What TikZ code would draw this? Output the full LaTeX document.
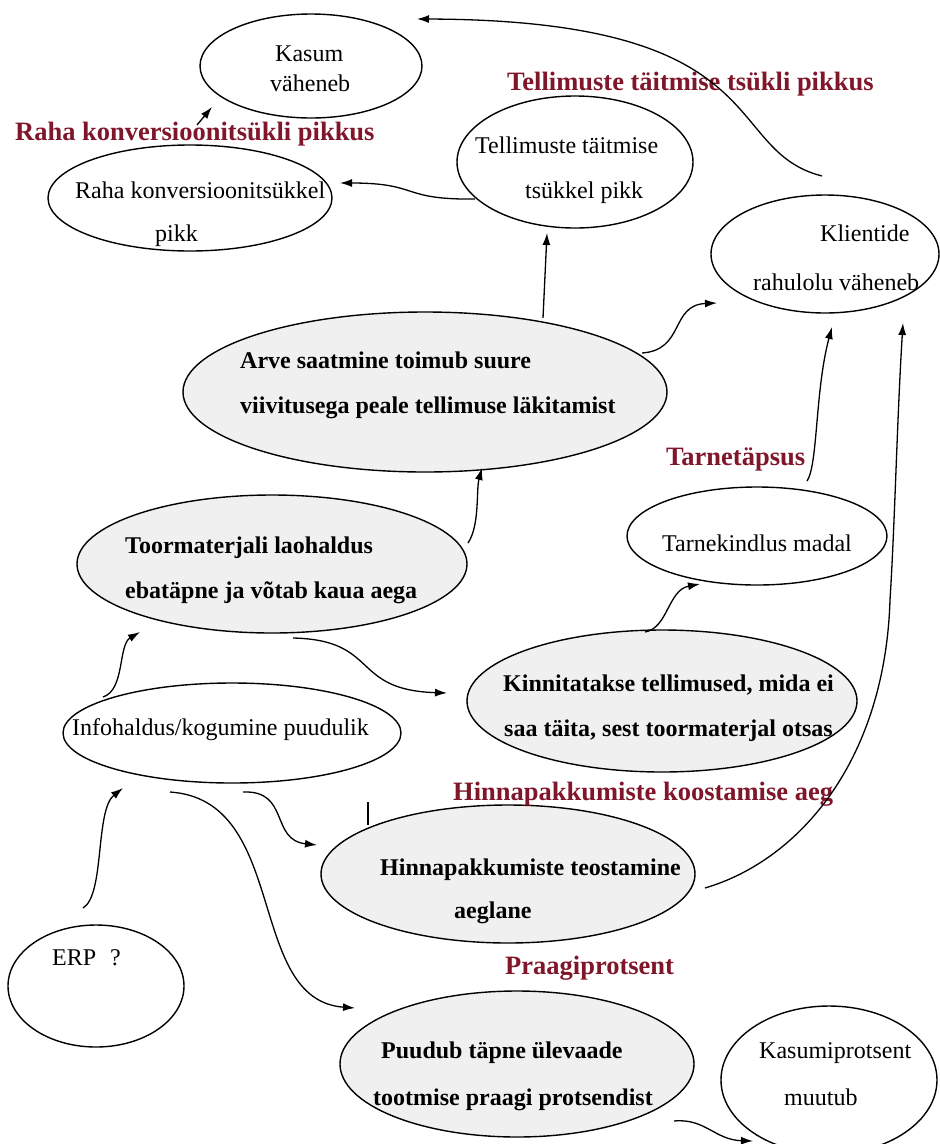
\documentclass[tikz,border=0pt]{standalone}
\usepackage{fontspec}
\setmainfont{Liberation Serif}
\usetikzlibrary{shapes.geometric,arrows.meta}
\definecolor{labelred}{RGB}{128,22,42}
\definecolor{probfill}{RGB}{240,240,240}
\begin{document}
\begin{tikzpicture}[x=1pt,y=-1pt,
  ell/.style={ellipse, draw, line width=1.4pt, inner sep=0pt},
  probell/.style={ell, fill=probfill},
  axes/.style 2 args={minimum width=#1, minimum height=#2},
  txt/.style={anchor=base west, inner sep=0pt, font=\fontsize{24}{28}\selectfont},
  btxt/.style={txt, font=\fontsize{24}{28}\selectfont\bfseries},
  measure/.style={txt, text=labelred, font=\fontsize{26.5}{30}\selectfont\bfseries},
  link/.style={line width=1.3pt, -{Latex[length=12pt,width=8pt]}},
  plain/.style={line width=1.3pt},
]
% canvas
\path[use as bounding box] (0,0) rectangle (940,1144);
\fill[white] (0,0) rectangle (940,1144);
\clip (0,0) rectangle (940,1144);

% ---- consequences (white) and problems (grey) ----
\node[ell, axes={222pt}{104pt}] (kasum) at (311,66) {};
\node[ell, axes={284pt}{106pt}] (raha) at (190,198) {};
\node[ell, axes={236pt}{132pt}] (tell) at (575,162) {};
\node[ell, axes={228pt}{118pt}] (klient) at (825,254) {};
\node[probell, axes={484pt}{160pt}] (arve) at (425,392) {};
\node[probell, axes={390pt}{138pt}] (toor) at (272,564) {};
\node[ell, axes={260pt}{98pt}] (tarne) at (757,536) {};
\node[ell, axes={338pt}{100pt}] (info) at (232,733) {};
\node[probell, axes={390pt}{142pt}] (kinn) at (662,701) {};
\node[probell, axes={374pt}{138pt}] (hinna) at (508,874) {};
\node[probell, axes={354pt}{146pt}] (puud) at (517,1064) {};
\node[ell, axes={216pt}{148pt}] (kprot) at (829,1080) {};
\node[ell, axes={176pt}{122pt}] (erp) at (96,986) {};

% ---- texts inside the ellipses ----
\node[txt] (kasumA) at (275,61) {Kasum};
\node[txt] (kasumB) at (270,91) {väheneb};
\node[txt] (rahaA) at (75,198) {Raha konversioonitsükkel};
\node[txt] (rahaB) at (155,241) {pikk};
\node[txt] (tellA) at (475,153) {Tellimuste täitmise};
\node[txt] (tellB) at (525,198) {tsükkel pikk};
\node[txt] (klientA) at (820,241) {Klientide};
\node[txt] (klientB) at (753,290) {rahulolu väheneb};
\node[btxt] (arveA) at (240,368) {Arve saatmine toimub suure};
\node[btxt] (arveB) at (240,413) {viivitusega peale tellimuse läkitamist};
\node[btxt] (toorA) at (125,553) {Toormaterjali laohaldus};
\node[btxt] (toorB) at (125,598) {ebatäpne ja võtab kaua aega};
\node[txt] (tarneA) at (662,551) {Tarnekindlus madal};
\node[btxt] (kinnA) at (503,691) {Kinnitatakse tellimused, mida ei};
\node[btxt] (kinnB) at (504,736) {saa täita, sest toormaterjal otsas};
\node[txt] (infoA) at (72,735) {Infohaldus/kogumine puudulik};
\node[btxt] (hinnaA) at (380,875) {Hinnapakkumiste teostamine};
\node[btxt] (hinnaB) at (454,918) {aeglane};
\node[txt] (erpA) at (52,965) {ERP\hspace{14pt}?};
\node[btxt] (puudA) at (381,1058) {Puudub täpne ülevaade};
\node[btxt] (puudB) at (373,1105) {tootmise praagi protsendist};
\node[txt] (kprotA) at (759,1058) {Kasumiprotsent};
\node[txt] (kprotB) at (784,1105) {muutub};

% ---- measures ----
\node[measure] (mTell) at (507,90) {Tellimuste täitmise tsükli pikkus};
\node[measure] (mRaha) at (15,140) {Raha konversioonitsükli pikkus};
\node[measure] (mTarne) at (666,465) {Tarnetäpsus};
\node[measure] (mHinna) at (453,800) {Hinnapakkumiste koostamise aeg};
\node[measure] (mPraak) at (505,974) {Praagiprotsent};

% ---- connector ends ----
\coordinate (a0) at (822,176);  \coordinate (a1) at (417,19);
\coordinate (b0) at (475,199);  \coordinate (b1) at (340,183);
\coordinate (c0) at (197,125);  \coordinate (c1) at (212,107);
\coordinate (d0) at (543,318);  \coordinate (d1) at (547,233);
\coordinate (e0) at (642,353);  \coordinate (e1) at (717,303);
\coordinate (f0) at (807,481);  \coordinate (f1) at (832,327);
\coordinate (g0) at (705,888);  \coordinate (gm) at (890,600);
\coordinate (g1) at (903,323);
\coordinate (h0) at (468,543);  \coordinate (h1) at (482,468);
\coordinate (i0) at (103,697);  \coordinate (i1) at (140,632);
\coordinate (j0) at (293,638);  \coordinate (j1) at (447,693);
\coordinate (k0) at (645,632);  \coordinate (k1) at (700,584);
\coordinate (l0) at (83,908);   \coordinate (l1) at (123,788);
\coordinate (m0) at (243,792);  \coordinate (m1) at (317,845);
\coordinate (n0) at (170,792);  \coordinate (n1) at (355,1008);
\coordinate (o0) at (674,1121); \coordinate (o1) at (753,1141);
\coordinate (s0) at (368,802);  \coordinate (s1) at (368,825);

% ---- connectors ----
\draw[link] (a0) .. controls (720,150) and (780,20) .. (a1);
\draw[link] (b0) .. controls (400,200) and (420,183) .. (b1);
\draw[link] (c0) -- (c1);
\draw[link] (d0) -- (d1);
\draw[link] (e0) .. controls (685,350) and (670,305) .. (e1);
\draw[link] (f0) .. controls (818,465) and (815,390) .. (f1);
\draw[link] (g0) .. controls (800,860) and (885,760) .. (gm)
               .. controls (895,520) and (897,420) .. (g1);
\draw[link] (h0) .. controls (480,525) and (476,490) .. (h1);
\draw[link] (i0) .. controls (125,690) and (118,645) .. (i1);
\draw[link] (j0) .. controls (380,640) and (350,690) .. (j1);
\draw[link] (k0) .. controls (668,628) and (668,590) .. (k1);
\draw[link] (l0) .. controls (105,895) and (95,810) .. (l1);
\draw[link] (m0) .. controls (290,790) and (270,840) .. (m1);
\draw[link] (n0) .. controls (290,800) and (245,1000) .. (n1);
\draw[link] (o0) .. controls (705,1118) and (715,1140) .. (o1);
\draw[plain] (s0) -- (s1);
\end{tikzpicture}
\end{document}
